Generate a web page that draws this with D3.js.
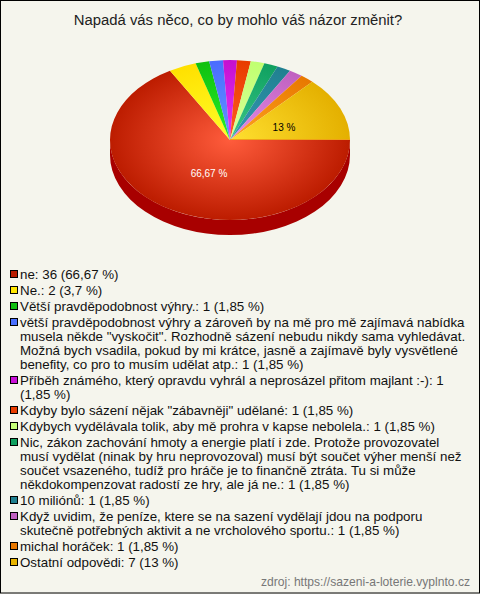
<!DOCTYPE html>
<html><head><meta charset="utf-8">
<script src="https://cdn.jsdelivr.net/npm/d3@7/dist/d3.min.js"></script>
<style>html,body{margin:0;padding:0;background:#f5f5ed}svg{display:block}text{font-family:"Liberation Sans",Arial,sans-serif}</style>
</head><body><svg id="c" width="480" height="594"></svg>
<script>
const titleText = "Napadá vás něco, co by mohlo váš názor změnit?";
const sourceText = "zdroj: https://sazeni-a-loterie.vyplnto.cz";
const values = [36,2,1,1,1,1,1,1,1,1,1,7];
const pieLabels = ["66,67 %",null,null,null,null,null,null,null,null,null,null,"13 %"];
const legendLines = [
 ["ne: 36 (66,67 %)"],
 ["Ne.: 2 (3,7 %)"],
 ["Větší pravděpodobnost výhry.: 1 (1,85 %)"],
 ["větší pravděpodobnost výhry a zároveň by na mě pro mě zajímavá nabídka","musela někde \"vyskočit\". Rozhodně sázení nebudu nikdy sama vyhledávat.","Možná bych vsadila, pokud by mi krátce, jasně a zajímavě byly vysvětlené","benefity, co pro to musím udělat atp.: 1 (1,85 %)"],
 ["Příběh známého, který opravdu vyhrál a neprosázel přitom majlant :-): 1","(1,85 %)"],
 ["Kdyby bylo sázení nějak \"zábavněji\" udělané: 1 (1,85 %)"],
 ["Kdybych vydělávala tolik, aby mě prohra v kapse nebolela.: 1 (1,85 %)"],
 ["Nic, zákon zachování hmoty a energie platí i zde. Protože provozovatel","musí vydělat (ninak by hru neprovozoval) musí být součet výher menší než","součet vsazeného, tudíž pro hráče je to finančně ztráta. Tu si může","někdokompenzovat radostí ze hry, ale já ne.: 1 (1,85 %)"],
 ["10 miliónů: 1 (1,85 %)"],
 ["Když uvidim, že peníze, ktere se na sazení vydělají jdou na podporu","skutečně potřebných aktivit a ne vrcholového sportu.: 1 (1,85 %)"],
 ["michal horáček: 1 (1,85 %)"],
 ["Ostatní odpovědi: 7 (13 %)"]
];
const legendColors = ["#b81c00","#ffe600","#10c010","#4a70ff","#c810d8","#e83c00","#c4ff78","#10a060","#208090","#c060c0","#e87800","#e8b400"];
const centerColors = ["#ff5c3c","#ffff28","#28f028","#6494ff","#e834f8","#ff5c20","#dcff9c","#38c888","#3498b4","#e48ce4","#ffa420","#ffe030"];
const edgeColors = ["#bc1c00","#ffe000","#10c010","#4a6cff","#c410d0","#e83c00","#c0ff70","#10a060","#208090","#c060c0","#e87800","#e4b000"];
const sideColor = "#a80000";

const svg = d3.select("#c");
const W = 480, H = 594;
svg.append("rect").attr("x",.5).attr("y",.5).attr("width",W-1).attr("height",H-1.5)
  .attr("fill","#f5f5ed").attr("stroke","#000");
svg.append("text").attr("x",238).attr("y",25).attr("text-anchor","middle")
  .attr("font-size",14.85).attr("fill","#222").text(titleText);

const cx=230, cy=140, rx=120, ry=80, depth=15;
// Side wall
svg.append("path").attr("fill",sideColor)
  .attr("d",`M${cx-rx},${cy}A${rx},${ry} 0 0 0 ${cx+rx},${cy}L${cx+rx},${cy+depth}A${rx},${ry} 0 0 1 ${cx-rx},${cy+depth}Z`);

const defs = svg.append("defs");
values.forEach((v,i)=>{
  const g = defs.append("radialGradient").attr("id","g"+i).attr("gradientUnits","userSpaceOnUse")
    .attr("cx",0).attr("cy",0).attr("r",rx);
  g.append("stop").attr("offset",0).attr("stop-color",centerColors[i]);
  g.append("stop").attr("offset",1).attr("stop-color",edgeColors[i]);
});
const pie = d3.pie().sort(null).startAngle(Math.PI/2).endAngle(Math.PI*2.5);
const arcs = pie(values);
const arc = d3.arc().innerRadius(0).outerRadius(rx);
const face = svg.append("g").attr("transform",`translate(${cx},${cy}) scale(1,${ry/rx})`);
face.selectAll("path").data(arcs).join("path").attr("d",arc)
  .attr("fill",(d,i)=>`url(#g${i})`);
// Thin seam along the flat edge between first and last slices
svg.append("line").attr("x1",cx).attr("x2",cx+rx).attr("y1",cy-.5).attr("y2",cy-.5)
  .attr("stroke","#f0a018").attr("stroke-width",1);

// Pie labels
svg.selectAll("text.pl").data(arcs.filter(d=>pieLabels[d.index])).join("text").attr("class","pl")
  .attr("text-anchor","middle").attr("font-size",10)
  .attr("fill",d=>d.index===0?"#fff":"#000")
  .attr("x",d=>d.index===0?209:284).attr("y",d=>d.index===0?177:131)
  .text(d=>pieLabels[d.index]);

// Legend
const lineH = 14, itemGap = 16;
let y = 279;
legendLines.forEach((lines,i)=>{
  svg.append("rect").attr("x",10.5).attr("y",Math.round(y)-8.5).attr("width",7).attr("height",7)
    .attr("fill",legendColors[i]).attr("stroke","#000");
  lines.forEach((t,j)=>{
    svg.append("text").attr("x",20).attr("y",Math.round(y+j*lineH)).attr("font-size",13.33).attr("fill","#111").text(t);
  });
  y += (lines.length-1)*lineH + itemGap;
});
svg.append("text").attr("x",470).attr("y",586).attr("text-anchor","end").attr("font-size",12.1).attr("fill","#777").text(sourceText);
</script></body></html>
